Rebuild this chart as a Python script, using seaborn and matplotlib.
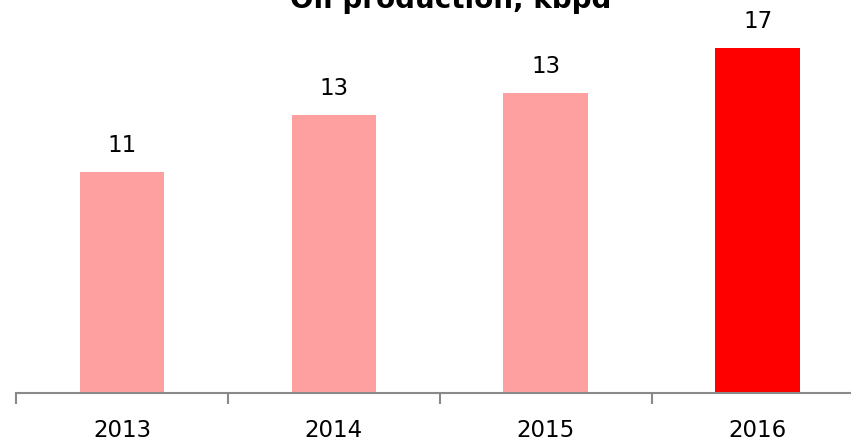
import seaborn as sns
import matplotlib.pyplot as plt
import pandas as pd

years = ['2013', '2014', '2015', '2016']
# bar heights as drawn in the picture (not strictly to scale with the labels)
heights = [10.9, 13.7, 14.8, 17.0]
labels = ['11', '13', '13', '17']
colors = ['#ffa0a0', '#ffa0a0', '#ffa0a0', '#ff0000']

df = pd.DataFrame({'year': years, 'value': heights})

sns.set_style('white')
plt.rcParams['font.family'] = ['DejaVu Sans']

fig = plt.figure(figsize=(8.51, 4.42), dpi=100)
ax = fig.add_axes([16 / 851, 49 / 442, 835 / 851, 393 / 442])

sns.barplot(data=df, x='year', y='value', hue='year', palette=colors,
            width=0.4, legend=False, ax=ax, saturation=1, linewidth=0)

for i, lab in enumerate(labels):
    ax.annotate(lab, (i, heights[i]), xytext=(0, 19), textcoords='offset points',
                ha='center', va='center', fontsize=16.5, color='black')

ax.set_yticks([])
ax.set_xlabel('')
ax.set_ylabel('')

sns.despine(ax=ax, left=True, top=True, right=True)
ax.spines['bottom'].set_color('#898989')
ax.spines['bottom'].set_linewidth(1.5)

ax.set_xticks([-0.5, 0.5, 1.5, 2.5, 3.5], minor=True)
ax.tick_params(axis='x', which='minor', length=8, width=1.5, color='#898989', direction='out', bottom=True)
ax.tick_params(axis='x', which='major', length=0, pad=19, labelsize=16.5,
               labelcolor='black', bottom=True)

ax.set_xlim(-0.5, 3.44)
ax.set_ylim(0, 19.37)

fig.text(451 / 851, 1 - 8 / 442, 'Oil production, kbpd', ha='center', va='baseline',
         fontsize=20, fontweight='bold', color='black')

fig.savefig('out.png', dpi=100)
